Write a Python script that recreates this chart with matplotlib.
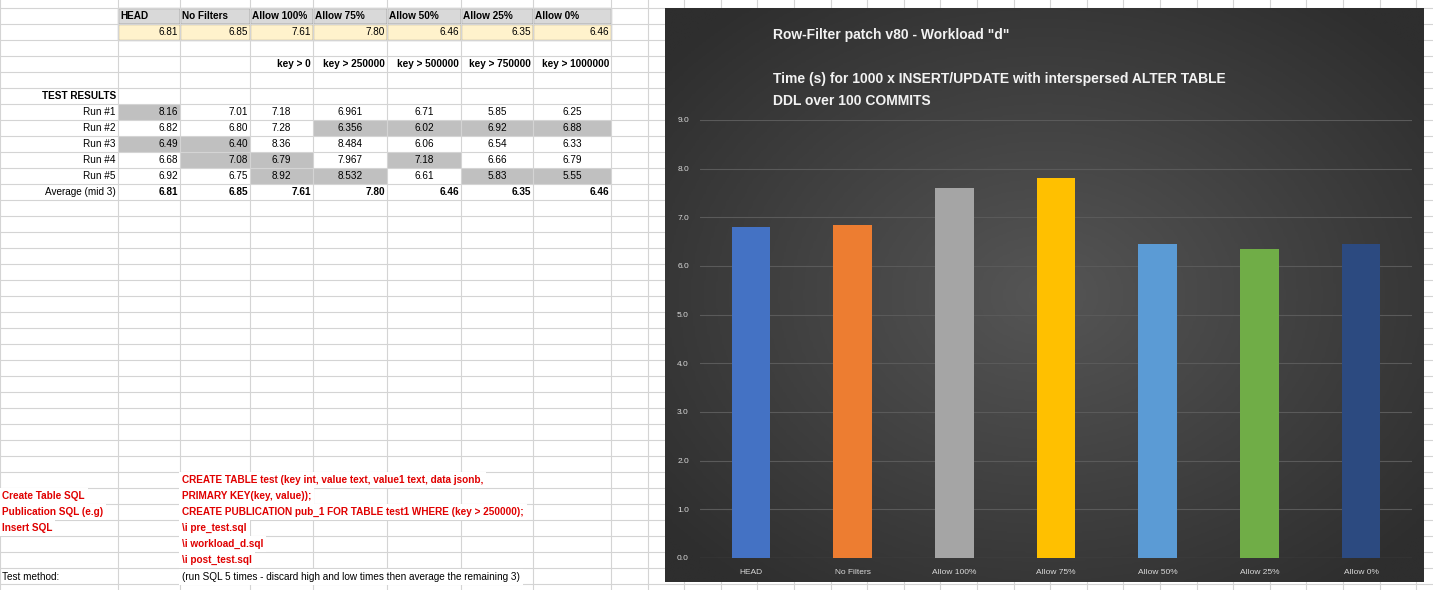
import matplotlib
matplotlib.use('Agg')
import matplotlib.pyplot as plt
import numpy as np
from matplotlib.patches import Rectangle

plt.rcParams['font.family'] = 'Liberation Sans'

categories = ['HEAD', 'No Filters', 'Allow 100%', 'Allow 75%', 'Allow 50%', 'Allow 25%', 'Allow 0%']
averages = [6.81, 6.85, 7.61, 7.80, 6.46, 6.35, 6.46]
avg_labels = ['6.81', '6.85', '7.61', '7.80', '6.46', '6.35', '6.46']
key_labels = ['', '', 'key > 0', 'key > 250000', 'key > 500000', 'key > 750000', 'key > 1000000']
run_names = ['Run #1', 'Run #2', 'Run #3', 'Run #4', 'Run #5']
runs = [
    ['8.16', '7.01', '7.18', '6.961', '6.71', '5.85', '6.25'],
    ['6.82', '6.80', '7.28', '6.356', '6.02', '6.92', '6.88'],
    ['6.49', '6.40', '8.36', '8.484', '6.06', '6.54', '6.33'],
    ['6.68', '7.08', '6.79', '7.967', '7.18', '6.66', '6.79'],
    ['6.92', '6.75', '8.92', '8.532', '6.61', '5.83', '5.55'],
]
# cells discarded (high / low) are shaded grey
discarded = [
    [1, 0, 0, 0, 0, 0, 0],
    [0, 0, 0, 1, 1, 1, 1],
    [1, 1, 0, 0, 0, 0, 0],
    [0, 1, 1, 0, 1, 0, 0],
    [0, 0, 1, 1, 0, 1, 1],
]
bar_colors = ['#4472c4', '#ed7d31', '#a5a5a5', '#ffc000', '#5b9bd5', '#70ad47', '#2c4a80']
notes = [
    (472, 'CREATE TABLE test (key int, value text, value1 text, data jsonb,', ''),
    (488, 'PRIMARY KEY(key, value));', 'Create Table SQL'),
    (504, 'CREATE PUBLICATION pub_1 FOR TABLE test1 WHERE (key > 250000);', 'Publication SQL (e.g)'),
    (520, '\\i pre_test.sql', 'Insert SQL'),
    (536, '\\i workload_d.sql', ''),
    (552, '\\i post_test.sql', ''),
]

W, H = 1433, 590
fig = plt.figure(figsize=(W / 100, H / 100), dpi=100)
ax = fig.add_axes([0, 0, 1, 1])
ax.set_xlim(0, W)
ax.set_ylim(H, 0)
ax.axis('off')

cols = [0, 118, 180, 250, 313, 387, 461, 533, 611]
cols += [611 + 36.6 * k for k in range(1, 23)]
rows = [8 + 16 * k for k in range(37)]
for c in cols:
    ax.plot([c, c], [0, H], color='#d4d4d4', lw=0.8)
for r in rows:
    ax.plot([0, W], [r, r], color='#d4d4d4', lw=0.8)

fs = 7.2
def cell_text(ci, ri, s, ha='right', bold=False, color='black'):
    y = rows[ri] + 8
    if ha == 'right':
        x = cols[ci + 1] - 2
    elif ha == 'left':
        x = cols[ci] + 2
    else:
        x = (cols[ci] + cols[ci + 1]) / 2
    ax.text(x, y, s, ha=ha, va='center', fontsize=fs, color=color,
            fontweight='bold' if bold else 'normal')

# header rows
for i, cat in enumerate(categories):
    c0, c1 = cols[i + 1], cols[i + 2]
    ax.add_patch(Rectangle((c0, rows[0]), c1 - c0, 16, fc='#d9d9d9', ec='black', lw=0.8))
    ax.add_patch(Rectangle((c0, rows[1]), c1 - c0, 16, fc='#fff2cc', ec='black', lw=0.8))
    cell_text(i + 1, 0, cat, ha='left', bold=True)
    cell_text(i + 1, 1, avg_labels[i])
    if key_labels[i]:
        cell_text(i + 1, 3, key_labels[i], bold=True)

cell_text(0, 5, 'TEST RESULTS', bold=True)
for r, name in enumerate(run_names):
    cell_text(0, 6 + r, name)
    for i, v in enumerate(runs[r]):
        c0, c1 = cols[i + 1], cols[i + 2]
        if discarded[r][i]:
            ax.add_patch(Rectangle((c0, rows[6 + r]), c1 - c0, 16, fc='#c0c0c0', ec='none'))
        ha = 'right' if i < 2 else 'center'
        cell_text(i + 1, 6 + r, v, ha=ha)
cell_text(0, 11, 'Average (mid 3)')
for i, v in enumerate(avg_labels):
    cell_text(i + 1, 11, v, bold=True)

# overflowing text hides the grid lines it covers
box = dict(fc='white', ec='none', pad=2.2)
for y, txt, lab in notes:
    ax.text(182, y + 8, txt, ha='left', va='center', fontsize=fs, color='#e00000',
            fontweight='bold', bbox=box)
    if lab:
        ax.text(2, y + 8, lab, ha='left', va='center', fontsize=fs, color='#e00000',
                fontweight='bold', bbox=box)
ax.text(2, 577, 'Test method:', ha='left', va='center', fontsize=fs)
ax.text(182, 577, '(run SQL 5 times - discard high and low times then average the remaining 3)',
        ha='left', va='center', fontsize=fs, bbox=box)

# chart background
x0, y0, x1, y1 = 665, 8, 1424, 582
bg = fig.add_axes([x0 / W, 1 - y1 / H, (x1 - x0) / W, (y1 - y0) / H])
gx, gy = np.meshgrid(np.linspace(-1, 1, 200), np.linspace(-1, 1, 200))
g = np.clip(np.sqrt(gx ** 2 + gy ** 2), 0, 1.3)
bg.imshow(g, cmap=matplotlib.colors.LinearSegmentedColormap.from_list('bg', ['#555555', '#2e2e2e']),
          aspect='auto', extent=[0, 1, 0, 1])
bg.axis('off')

cx = fig.add_axes([700 / W, 1 - 558 / H, (1412 - 700) / W, (558 - 120) / H])
cx.patch.set_alpha(0)
xs = np.arange(len(categories))
cx.bar(xs, averages, width=0.38, color=bar_colors, zorder=3)
cx.set_ylim(0, 9)
cx.set_xlim(-0.5, len(categories) - 0.5)
cx.set_yticks(np.arange(0, 10, 1))
cx.set_yticklabels([f'{v:.1f}' for v in range(10)])
cx.set_xticks(xs)
cx.set_xticklabels(categories)
cx.tick_params(colors='#d9d9d9', labelsize=6, length=0, pad=8)
cx.grid(axis='y', color='#5a5a5a', lw=0.8, zorder=0)
for s in cx.spines.values():
    s.set_visible(False)
cx.axhline(0, color='#6a6a6a', lw=0.8)

fig.text(773 / W, 1 - 35 / H, 'Row-Filter patch v80 - Workload "d"', color='#f2f2f2',
         fontsize=10, fontweight='bold', va='center')
fig.text(773 / W, 1 - 79 / H, 'Time (s) for 1000 x INSERT/UPDATE with interspersed ALTER TABLE',
         color='#f2f2f2', fontsize=10, fontweight='bold', va='center')
fig.text(773 / W, 1 - 101 / H, 'DDL over 100 COMMITS', color='#f2f2f2',
         fontsize=10, fontweight='bold', va='center')

fig.savefig('out.png', dpi=100)
